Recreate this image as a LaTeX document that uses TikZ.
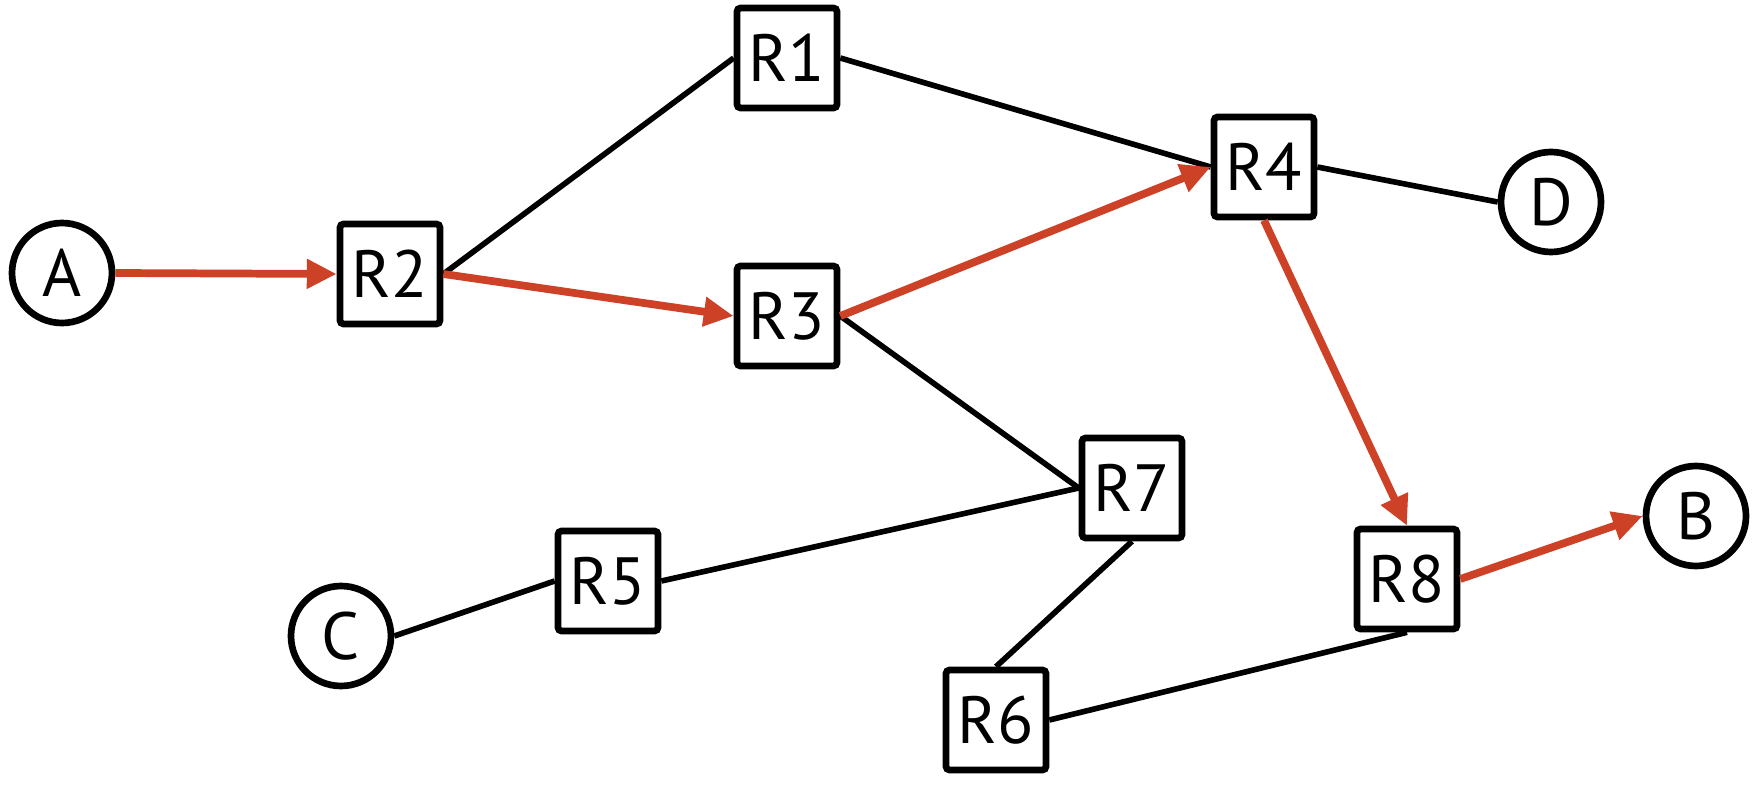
\documentclass[tikz,border=0pt]{standalone}
\usepackage{fontspec}
\setmainfont{PT Sans}
\usetikzlibrary{arrows.meta}

\definecolor{pathred}{RGB}{205,65,38}

\begin{document}
\begin{tikzpicture}[
        router/.style={draw, line width=1.9pt, rounded corners=1pt, minimum size=1cm, inner sep=0pt, font=\fontsize{19}{21}\selectfont},
        host/.style={draw, circle, line width=1.9pt, minimum size=1cm, inner sep=0pt, font=\fontsize{19}{21}\selectfont},
        link/.style={line width=1.6pt},
        route/.style={line width=2.2pt, pathred, -{Triangle[length=8.5pt, width=8pt]}}
    ]
        \useasboundingbox (0,0) rectangle (17.55,8.02);

        \node[host] (A) at (0.62, 5.29) {A};
        \node[host] (D) at (15.51, 6.00) {D};
        \node[host] (C) at (3.41, 1.66) {C};
        \node[host] (B) at (16.96, 2.86) {B};

        \node[router] (R1) at (7.87, 7.44) {R1};
        \node[router] (R2) at (3.90, 5.28) {R2};
        \node[router] (R3) at (7.87, 4.86) {R3};
        \node[router] (R4) at (12.64, 6.35) {R4};
        \node[router] (R5) at (6.08, 2.21) {R5};
        \node[router] (R6) at (9.96, 0.82) {R6};
        \node[router] (R7) at (11.32, 3.14) {R7};
        \node[router] (R8) at (14.07, 2.23) {R8};

        % plain links
        \draw[link] (R2.east) -- (R1.west);
        \draw[link] (R1.east) -- (R4.west);
        \draw[link] (R4.east) -- (D.west);
        \draw[link] (R3.east) -- (R7.west);
        \draw[link] (R5.east) -- (R7.west);
        \draw[link] (C.east) -- (R5.west);
        \draw[link] (R7.south) -- (R6.north);
        \draw[link] (R6.east) -- (R8.south);

        % chosen route
        \draw[route] (A.east) -- (R2.west);
        \draw[route] (R2.east) -- (R3.west);
        \draw[route] (R3.east) -- (R4.west);
        \draw[route] (R4.south) -- (R8.north);
        \draw[route] (R8.east) -- (B.west);
    \end{tikzpicture}
\end{document}
